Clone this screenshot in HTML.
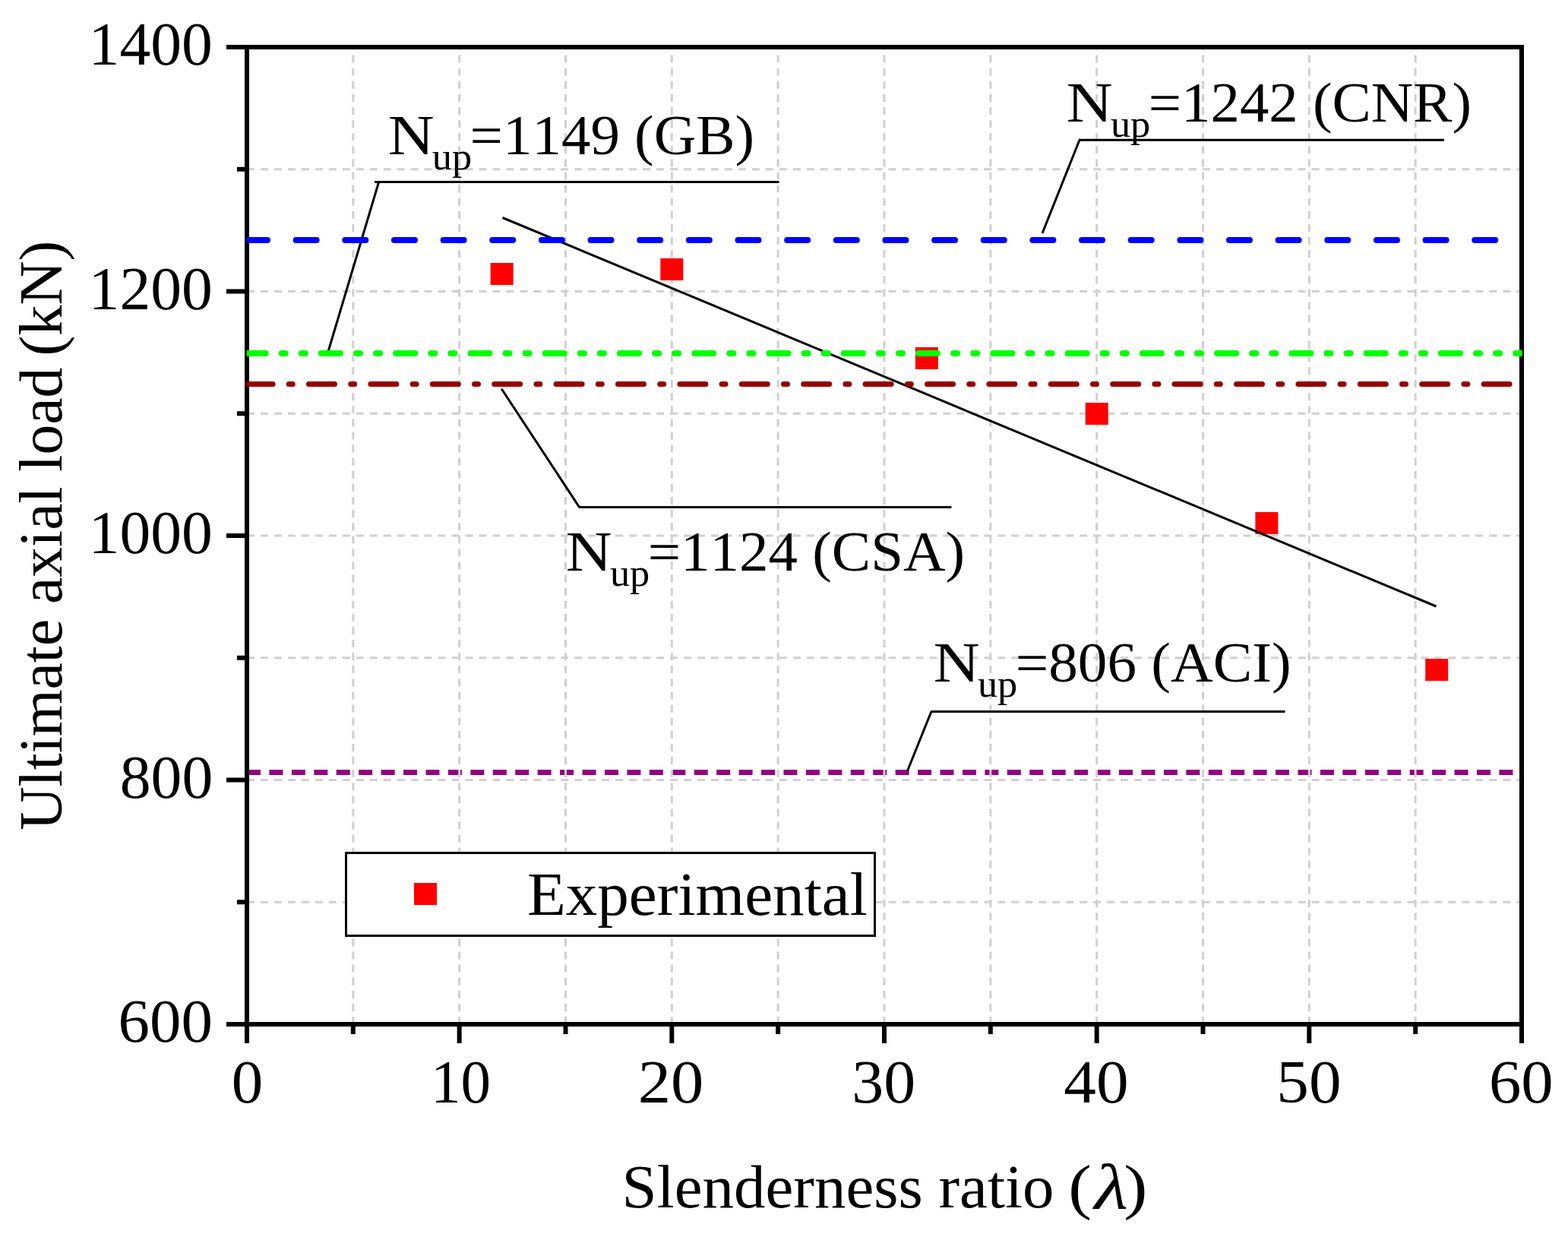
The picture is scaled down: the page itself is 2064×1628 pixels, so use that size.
<!DOCTYPE html>
<html><head><meta charset="utf-8"><title>Ultimate axial load vs slenderness ratio</title>
<style>html,body{margin:0;padding:0;background:#fff;overflow:hidden;}svg{display:block;}text{font-family:"Liberation Serif", "Times New Roman", serif;fill:#000;font-kerning:none;font-feature-settings:"kern" 0;}</style>
</head><body>
<svg width="2064" height="1628" viewBox="0 0 2064 1628">
<rect x="0" y="0" width="2064" height="1628" fill="#fff"/>
<defs><clipPath id="pa"><rect x="325.0" y="62.0" width="1678.0" height="1286.0"/></clipPath><clipPath id="pb"><rect x="324.8" y="62.0" width="1678.9" height="1286.0"/></clipPath></defs>
<g clip-path="url(#pa)" fill="none">
<line x1="325" y1="1016.45" x2="2003" y2="1016.45" stroke="#930080" stroke-width="7" stroke-dasharray="18 11.436"/>
</g>
<g stroke="#d0d0d0" stroke-width="3" fill="none">
<line x1="464.83" y1="1348.00" x2="464.83" y2="62.00" stroke-dasharray="10 7.1"/>
<line x1="604.67" y1="1348.00" x2="604.67" y2="62.00" stroke-dasharray="10 7.1"/>
<line x1="744.50" y1="1348.00" x2="744.50" y2="62.00" stroke-dasharray="10 7.1"/>
<line x1="884.33" y1="1348.00" x2="884.33" y2="62.00" stroke-dasharray="10 7.1"/>
<line x1="1024.17" y1="1348.00" x2="1024.17" y2="62.00" stroke-dasharray="10 7.1"/>
<line x1="1164.00" y1="1348.00" x2="1164.00" y2="62.00" stroke-dasharray="10 7.1"/>
<line x1="1303.83" y1="1348.00" x2="1303.83" y2="62.00" stroke-dasharray="10 7.1"/>
<line x1="1443.67" y1="1348.00" x2="1443.67" y2="62.00" stroke-dasharray="10 7.1"/>
<line x1="1583.50" y1="1348.00" x2="1583.50" y2="62.00" stroke-dasharray="10 7.1"/>
<line x1="1723.33" y1="1348.00" x2="1723.33" y2="62.00" stroke-dasharray="10 7.1"/>
<line x1="1863.17" y1="1348.00" x2="1863.17" y2="62.00" stroke-dasharray="10 7.1"/>
<line x1="325.00" y1="1187.25" x2="2003.00" y2="1187.25" stroke-dasharray="10 7.97"/>
<line x1="325.00" y1="1026.50" x2="2003.00" y2="1026.50" stroke-dasharray="10 7.97"/>
<line x1="325.00" y1="865.75" x2="2003.00" y2="865.75" stroke-dasharray="10 7.97"/>
<line x1="325.00" y1="705.00" x2="2003.00" y2="705.00" stroke-dasharray="10 7.97"/>
<line x1="325.00" y1="544.25" x2="2003.00" y2="544.25" stroke-dasharray="10 7.97"/>
<line x1="325.00" y1="383.50" x2="2003.00" y2="383.50" stroke-dasharray="10 7.97"/>
<line x1="325.00" y1="222.75" x2="2003.00" y2="222.75" stroke-dasharray="10 7.97"/>
</g>
<g fill="#ff0000">
<rect x="645.6" y="346.0" width="30" height="29"/>
<rect x="869.3" y="340.0" width="30" height="29"/>
<rect x="1204.9" y="457.0" width="30" height="29"/>
<rect x="1428.7" y="530.0" width="30" height="29"/>
<rect x="1652.4" y="673.9" width="30" height="29"/>
<rect x="1876.2" y="867.0" width="30" height="29"/>
</g>
<line x1="661.5" y1="286.5" x2="1890.5" y2="798" stroke="#000" stroke-width="3"/>
<g stroke="#000" stroke-width="3" fill="none">
<line x1="431" y1="466" x2="498.5" y2="240"/>
<line x1="493" y1="239.5" x2="1025.6" y2="239.5"/>
<line x1="1372" y1="307" x2="1421.5" y2="183"/>
<line x1="1420.6" y1="184.3" x2="1900.9" y2="184.3"/>
<line x1="660.2" y1="511.7" x2="762.5" y2="667.4"/>
<line x1="762" y1="667.4" x2="1252.4" y2="667.4"/>
<line x1="1194.4" y1="1014.8" x2="1225.8" y2="936.8"/>
<line x1="1225" y1="936.5" x2="1691.5" y2="936.5"/>
</g>
<g stroke="#000" stroke-width="6" fill="none">
<rect x="325.0" y="62.0" width="1678.0" height="1286.0"/>
<line x1="298" y1="1348.00" x2="325.0" y2="1348.00"/>
<line x1="298" y1="1026.50" x2="325.0" y2="1026.50"/>
<line x1="298" y1="705.00" x2="325.0" y2="705.00"/>
<line x1="298" y1="383.50" x2="325.0" y2="383.50"/>
<line x1="298" y1="62.00" x2="325.0" y2="62.00"/>
<line x1="312" y1="1187.25" x2="325.0" y2="1187.25"/>
<line x1="312" y1="865.75" x2="325.0" y2="865.75"/>
<line x1="312" y1="544.25" x2="325.0" y2="544.25"/>
<line x1="312" y1="222.75" x2="325.0" y2="222.75"/>
<line x1="325.00" y1="1348.0" x2="325.00" y2="1373"/>
<line x1="604.67" y1="1348.0" x2="604.67" y2="1373"/>
<line x1="884.33" y1="1348.0" x2="884.33" y2="1373"/>
<line x1="1164.00" y1="1348.0" x2="1164.00" y2="1373"/>
<line x1="1443.67" y1="1348.0" x2="1443.67" y2="1373"/>
<line x1="1723.33" y1="1348.0" x2="1723.33" y2="1373"/>
<line x1="2003.00" y1="1348.0" x2="2003.00" y2="1373"/>
<line x1="464.83" y1="1348.0" x2="464.83" y2="1361"/>
<line x1="744.50" y1="1348.0" x2="744.50" y2="1361"/>
<line x1="1024.17" y1="1348.0" x2="1024.17" y2="1361"/>
<line x1="1303.83" y1="1348.0" x2="1303.83" y2="1361"/>
<line x1="1583.50" y1="1348.0" x2="1583.50" y2="1361"/>
<line x1="1863.17" y1="1348.0" x2="1863.17" y2="1361"/>
</g>
<g clip-path="url(#pb)" fill="none">
<line x1="325" y1="316" x2="2003" y2="316" stroke="#0000ff" stroke-width="8" stroke-linecap="round" stroke-dasharray="27 37.65"/>
<line x1="324.6" y1="465" x2="2010" y2="465" stroke="#00ff00" stroke-width="8" stroke-linecap="round" stroke-dasharray="25 21.09 5 21.09 5 21.09"/>
<line x1="325.1" y1="505.45" x2="2010" y2="505.45" stroke="#960000" stroke-width="7" stroke-linecap="round" stroke-dasharray="34 21.2 5 21.2"/>
</g>
<rect x="455.5" y="1122.5" width="696" height="109" fill="#fff" stroke="#000" stroke-width="3"/>
<rect x="545" y="1162" width="30" height="29" fill="#ff0000"/>
<text transform="translate(116.56 85.30) scale(1.0207 1)" font-size="80">1400</text>
<text transform="translate(116.56 406.80) scale(1.0207 1)" font-size="80">1200</text>
<text transform="translate(116.56 728.30) scale(1.0207 1)" font-size="80">1000</text>
<text transform="translate(157.63 1049.80) scale(1.0219 1)" font-size="80">800</text>
<text transform="translate(155.49 1371.30) scale(1.0368 1)" font-size="80">600</text>
<text transform="translate(304.79 1451.40) scale(1.0382 1)" font-size="80">0</text>
<text transform="translate(567.08 1451.40) scale(0.9886 1)" font-size="80">10</text>
<text transform="translate(839.67 1451.40) scale(1.0822 1)" font-size="80">20</text>
<text transform="translate(1121.31 1451.40) scale(1.0479 1)" font-size="80">30</text>
<text transform="translate(1400.27 1451.40) scale(1.0667 1)" font-size="80">40</text>
<text transform="translate(1680.27 1451.40) scale(1.0653 1)" font-size="80">50</text>
<text transform="translate(1959.92 1451.40) scale(1.0595 1)" font-size="80">60</text>
<text transform="translate(693.92 1203.50) scale(1.0393 1)" font-size="80">Experimental</text>
<text transform="translate(818.62 1589.00) scale(1.0368 1)" font-size="80">Slenderness ratio</text>
<text transform="translate(1406.30 1589.00) scale(1.1500 1)" font-size="80">(</text>
<text transform="translate(1440.45 1589.60) scale(1.2250 1)" font-size="84" font-style="italic">&#955;</text>
<text transform="translate(1479.29 1589.00) scale(1.1700 1)" font-size="80">)</text>
<text transform="translate(80.90 1092.79) rotate(-90) scale(0.9933 1)" font-size="80">Ultimate axial load</text>
<text transform="translate(80.90 468.62) rotate(-90) scale(1.0063 1)" font-size="80">(kN)</text>
<text transform="translate(510.66 202.90) scale(1.1220 1)" font-size="75">N</text>
<text transform="translate(568.85 223.20) scale(1.0468 1)" font-size="50">up</text>
<text transform="translate(618.60 202.90) scale(1.0260 1)" font-size="75">=1149 (GB)</text>
<text transform="translate(1403.76 159.60) scale(1.1220 1)" font-size="75">N</text>
<text transform="translate(1461.95 179.90) scale(1.0468 1)" font-size="50">up</text>
<text transform="translate(1511.70 159.60) scale(1.0248 1)" font-size="75">=1242 (CNR)</text>
<text transform="translate(744.76 750.90) scale(1.1220 1)" font-size="75">N</text>
<text transform="translate(802.95 771.20) scale(1.0468 1)" font-size="50">up</text>
<text transform="translate(852.70 750.90) scale(1.0260 1)" font-size="75">=1124 (CSA)</text>
<text transform="translate(1228.76 896.80) scale(1.1220 1)" font-size="75">N</text>
<text transform="translate(1286.95 917.10) scale(1.0468 1)" font-size="50">up</text>
<text transform="translate(1336.68 896.80) scale(1.0296 1)" font-size="75">=806 (ACI)</text>
</svg>
</body></html>
